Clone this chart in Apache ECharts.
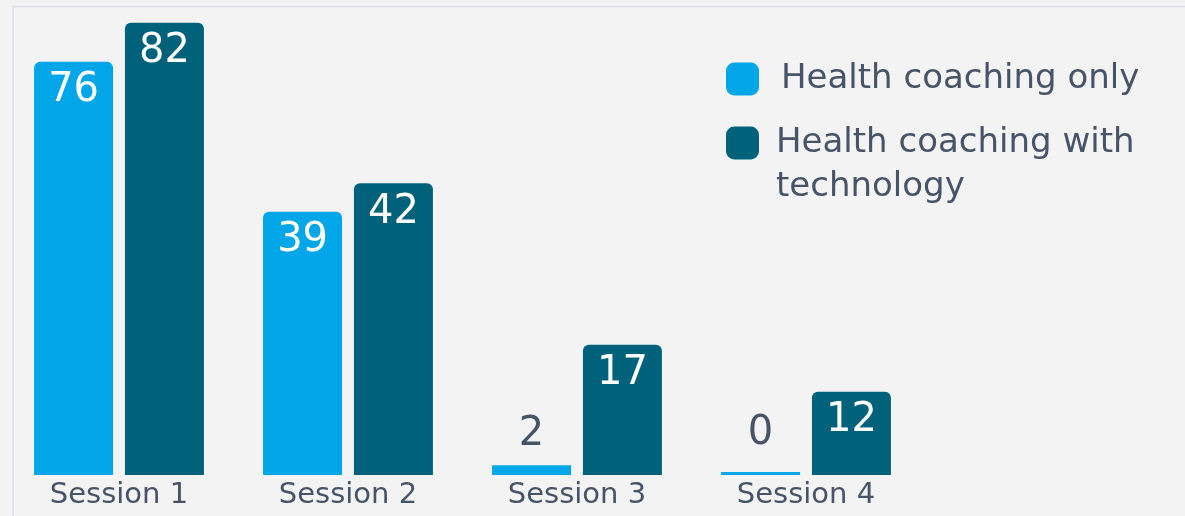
<!DOCTYPE html>
<html>
<head>
<meta charset="utf-8">
<script src="https://cdn.jsdelivr.net/npm/echarts@6/dist/echarts.min.js"></script>
<style>
  html, body { margin: 0; padding: 0; background: #f3f3f4; }
  #chart { width: 1185px; height: 516px; }
</style>
</head>
<body>
<div id="chart"></div>
<script>
  // --- Data ---
  var sessions = ['Session 1', 'Session 2', 'Session 3', 'Session 4'];
  var seriesNames = ['Health coaching only', 'Health coaching with technology'];

  // printed numbers on the bars
  var coachingOnly = [76, 39, 2, 0];
  var coachingTech = [82, 42, 17, 12];

  // the reference bars are not drawn to scale with their numbers,
  // so the drawn heights are read separately (0-100 of the plot height)
  var coachingOnlyHeight = [87.9, 56.0, 2.1, 0];
  var coachingTechHeight = [96.2, 62.1, 27.7, 17.7];

  var LIGHT = '#00a6e8';
  var DARK = '#00627a';
  var TEXT = '#475467';
  var FONT = 'DejaVu Sans';

  function buildData(heights, printed, color) {
    return heights.map(function(h, i) {
      var small = h < 5;
      return {
        value: h,
        printed: printed[i],
        itemStyle: { color: color, borderRadius: small ? 0 : [6, 6, 0, 0] },
        label: small
          ? { position: 'top', color: TEXT, distance: h === 0 ? 18 : 11 }
          : { position: 'insideTop', color: '#ffffff', distance: 9 }
      };
    });
  }

  var labelCfg = {
    show: true,
    fontFamily: FONT,
    fontSize: 40,
    formatter: function(p) { return p.data.printed; }
  };

  var legendText = { fontFamily: FONT, fontSize: 34, color: TEXT, lineHeight: 44 };

  var chart = echarts.init(document.getElementById('chart'));
  chart.setOption({
    backgroundColor: '#f3f3f4',
    animation: false,
    graphic: [
      { type: 'polyline', shape: { points: [[13, 516], [13, 6.5], [1185, 6.5]] },
        style: { stroke: '#d9dcec', lineWidth: 1.5, fill: null }, silent: true }
    ],
    legend: [
      {
        data: [seriesNames[0]], left: 726, top: 57, padding: 0,
        itemWidth: 33, itemHeight: 33, icon: 'roundRect',
        textStyle: Object.assign({ padding: [0, 0, 0, 17] }, legendText)
      },
      {
        // first text line sits level with the icon, the wrap hangs below it
        data: [seriesNames[1]], left: 726, top: 77, padding: 0,
        itemWidth: 33, itemHeight: 33, icon: 'roundRect',
        formatter: function() { return ' \nHealth coaching with\ntechnology'; },
        textStyle: Object.assign({ padding: [0, 0, 0, 12] }, legendText)
      }
    ],
    grid: { left: 4.5, right: 264.5, top: 5, bottom: 41 },
    xAxis: {
      type: 'category',
      data: sessions,
      axisLine: { show: false },
      axisTick: { show: false },
      axisLabel: { fontFamily: FONT, fontSize: 29, color: TEXT, margin: 6 }
    },
    yAxis: { type: 'value', min: 0, max: 100, show: false, splitLine: { show: false } },
    series: [
      { name: seriesNames[0], type: 'bar', barWidth: 79, barGap: '15%', barMinHeight: 3,
        itemStyle: { color: LIGHT }, label: labelCfg,
        data: buildData(coachingOnlyHeight, coachingOnly, LIGHT) },
      { name: seriesNames[1], type: 'bar', barWidth: 79, barGap: '15%',
        itemStyle: { color: DARK }, label: labelCfg,
        data: buildData(coachingTechHeight, coachingTech, DARK) }
    ]
  });
</script>
</body>
</html>
